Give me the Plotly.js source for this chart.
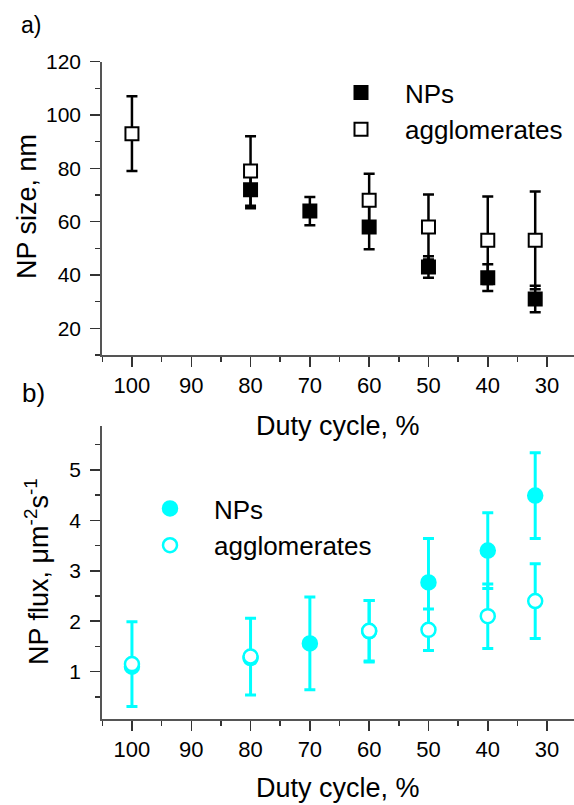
<!DOCTYPE html>
<html><head><meta charset="utf-8">
<script src="https://cdn.plot.ly/plotly-3.0.1.min.js"></script>
<style>html,body{margin:0;padding:0;background:#fff}</style>
</head><body><div id="chart" style="width:574px;height:805px"></div>
<script>
// ---- Panel a) NP size vs duty cycle ----
const sizeNPsX   = [80, 70, 60, 50, 40, 32];
const sizeNPsY   = [72, 64, 58, 43, 39, 31];
const sizeNPsErr = [7, 5.3, 8.3, 4, 5, 5];
const sizeAggX   = [100, 80, 60, 50, 40, 32];
const sizeAggY   = [93, 79, 68, 58, 53, 53];
const sizeAggErr = [14, 13, 10, 12.2, 16.4, 18.3];
// ---- Panel b) NP flux vs duty cycle ----
const fluxNPsX   = [100, 80, 70, 60, 50, 40, 32];
const fluxNPsY   = [1.1, 1.27, 1.56, 1.8, 2.77, 3.40, 4.49];
const fluxNPsErr = [0.07, 0.07, 0.92, 0.61, 0.87, 0.75, 0.85];
const fluxAggX   = [100, 80, 60, 50, 40, 32];
const fluxAggY   = [1.15, 1.3, 1.81, 1.83, 2.10, 2.40];
const fluxAggErr = [0.84, 0.76, 0.6, 0.41, 0.64, 0.74];
const seriesNames = ['NPs', 'agglomerates'];

const W = 574, H = 805;
const px = v => v / W, py = v => 1 - v / H;
const FONT = 'Arial, "Liberation Sans", sans-serif';
const CYAN = '#00FFFF';

const traces = [
  {x: sizeNPsX, y: sizeNPsY, name: seriesNames[0], type: 'scatter', mode: 'markers',
   xaxis: 'x', yaxis: 'y', legend: 'legend',
   marker: {symbol: 'square', size: 13, color: '#000', line: {color: '#000', width: 2}},
   error_y: {type: 'data', array: sizeNPsErr, visible: true, color: '#000', thickness: 2.5, width: 5.5}},
  {x: sizeAggX, y: sizeAggY, name: seriesNames[1], type: 'scatter', mode: 'markers',
   xaxis: 'x', yaxis: 'y', legend: 'legend',
   marker: {symbol: 'square', size: 13, color: '#fff', line: {color: '#000', width: 2}},
   error_y: {type: 'data', array: sizeAggErr, visible: true, color: '#000', thickness: 2.5, width: 5.5}},
  {x: fluxNPsX, y: fluxNPsY, name: seriesNames[0], type: 'scatter', mode: 'markers',
   xaxis: 'x2', yaxis: 'y2', legend: 'legend2',
   marker: {symbol: 'circle', size: 14, color: CYAN, line: {color: CYAN, width: 2.5}},
   error_y: {type: 'data', array: fluxNPsErr, visible: true, color: CYAN, thickness: 3, width: 5.5}},
  {x: fluxAggX, y: fluxAggY, name: seriesNames[1], type: 'scatter', mode: 'markers',
   xaxis: 'x2', yaxis: 'y2', legend: 'legend2',
   marker: {symbol: 'circle', size: 14, color: '#fff', line: {color: CYAN, width: 2.5}},
   error_y: {type: 'data', array: fluxAggErr, visible: true, color: CYAN, thickness: 3, width: 5.5}}
];

function xAxis(anchor, domain) {
  return {anchor: anchor, domain: domain, range: [105.1, 25.46], dtick: 10, tick0: 0,
    ticks: 'outside', ticklen: 10, tickwidth: 1.5, tickcolor: '#333',
    showline: true, linecolor: '#555', linewidth: 1.5, showgrid: false, zeroline: false,
    tickfont: {family: FONT, size: 22, color: '#000'}, automargin: false,
    minor: {ticks: 'outside', ticklen: 5, tickwidth: 1.5, tickcolor: '#333', dtick: 5, showgrid: false}};
}
function yAxis(anchor, domain, range, dtick) {
  return {anchor: anchor, domain: domain, range: range, dtick: dtick, tick0: 0,
    ticks: 'outside', ticklen: 10, tickwidth: 1.5, tickcolor: '#333',
    showline: true, linecolor: '#555', linewidth: 1.5, showgrid: false, zeroline: false,
    tickfont: {family: FONT, size: 21, color: '#000'}, automargin: false, ticklabelstandoff: 5,
    minor: {ticks: 'outside', ticklen: 5, tickwidth: 1.5, tickcolor: '#333', dtick: dtick / 2, showgrid: false}};
}
const xd = [px(101.7), 1];
const legendBase = {bgcolor: 'rgba(0,0,0,0)', borderwidth: 0, itemwidth: 78,
  font: {family: FONT, size: 26, color: '#000'}, xanchor: 'left', yanchor: 'top', tracegroupgap: 0};

const ann = (text, x, y, size, angle) => ({text: text, x: px(x), y: py(y), xref: 'paper', yref: 'paper',
  showarrow: false, xanchor: 'center', yanchor: 'middle', textangle: angle || 0,
  font: {family: FONT, size: size, color: '#000'}});

const layout = {
  width: W, height: H, margin: {l: 0, r: 0, t: 0, b: 0},
  paper_bgcolor: '#fff', plot_bgcolor: '#fff', showlegend: true,
  xaxis: xAxis('y', xd),
  yaxis: yAxis('x', [py(355), py(61.7)], [10, 120], 20),
  xaxis2: xAxis('y2', xd),
  yaxis2: yAxis('x2', [py(719.3), py(426)], [0.056, 5.87], 1),
  legend: Object.assign({}, legendBase, {x: px(317), y: py(69)}),
  legend2: Object.assign({}, legendBase, {x: px(126), y: py(485)}),
  annotations: [
    ann('a)', 31, 25, 23),
    ann('b)', 33, 393, 26),
    ann('NP size, nm', 27, 207, 27, -90),
    ann('NP flux, μm<sup>-2</sup>s<sup>-1</sup>', 37, 572, 27, -90),
    ann('Duty cycle, %', 338, 426, 27),
    ann('Duty cycle, %', 338, 788, 27)
  ]
};
Plotly.newPlot('chart', traces, layout, {displayModeBar: false, staticPlot: true});
</script></body></html>
